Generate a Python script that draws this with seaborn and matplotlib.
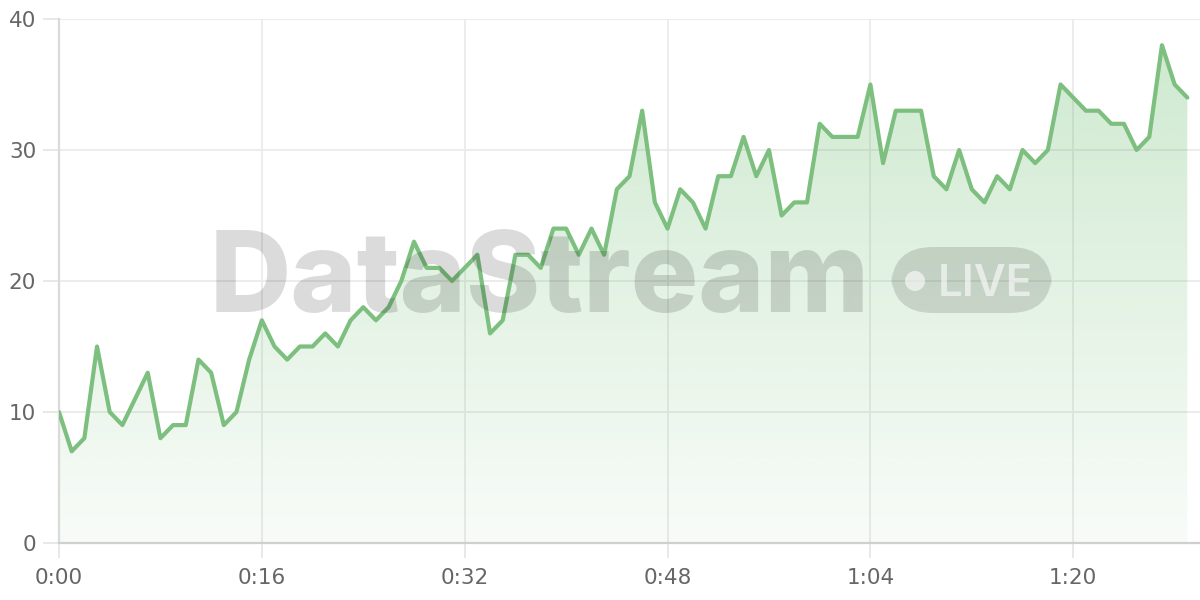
import numpy as np
import pandas as pd
import matplotlib
matplotlib.use("Agg")
import matplotlib.pyplot as plt
import seaborn as sns
from matplotlib.patches import FancyBboxPatch, Circle

# ---- data ----
seconds = list(range(90))
values = [10, 7, 8, 15, 10, 9, 11, 13, 8, 9,
          9, 14, 13, 9, 10, 14, 17, 15, 14, 15,
          15, 16, 15, 17, 18, 17, 18, 20, 23, 21,
          21, 20, 21, 22, 16, 17, 22, 22, 21, 24,
          24, 22, 24, 22, 27, 28, 33, 26, 24, 27,
          26, 24, 28, 28, 31, 28, 30, 25, 26, 26,
          32, 31, 31, 31, 35, 29, 33, 33, 33, 28,
          27, 30, 27, 26, 28, 27, 30, 29, 30, 35,
          34, 33, 33, 32, 32, 30, 31, 38, 35, 34]
x_tick_positions = [0, 16, 32, 48, 64, 80]
x_tick_labels = ["0:00", "0:16", "0:32", "0:48", "1:04", "1:20"]
y_ticks = [0, 10, 20, 30, 40]
watermark_text = "DataStream"
badge_text = "LIVE"

df = pd.DataFrame({"t": seconds, "v": values})

sns.set_theme(style="white")
plt.rcParams['font.family'] = ['DejaVu Sans']

W, H = 1200, 600
fig = plt.figure(figsize=(12, 6), dpi=100)
fig.patch.set_facecolor("white")
ax = fig.add_axes([59 / W, 57 / H, 1141 / W, 524 / H])
ax.set_facecolor("white")

green = np.array([76, 175, 80]) / 255.0
line_color = "#7dbf7e"

# gradient area fill
poly = ax.fill_between(df["t"], df["v"], 0, color="none", lw=0)
n = 256
rgba = np.zeros((n, 1, 4))
rgba[..., :3] = green
rgba[:, 0, 3] = np.linspace(0.04, 0.28, n)
img = ax.imshow(rgba, extent=[0, 90, 0, 40], origin="lower", aspect="auto",
                zorder=1, interpolation="bilinear")
img.set_clip_path(poly.get_paths()[0], ax.transData)

sns.lineplot(data=df, x="t", y="v", ax=ax, color=line_color, lw=3.0,
             zorder=4, legend=False)

ax.set_xlim(0, 90)
ax.set_ylim(0, 40)
ax.set_xticks(x_tick_positions)
ax.set_xticklabels(x_tick_labels)
ax.set_yticks(y_ticks)
ax.set_xlabel("")
ax.set_ylabel("")
ax.grid(True, color="#eaeaea", lw=1.3, zorder=0)
ax.set_axisbelow(True)
for s in ["top", "right"]:
    ax.spines[s].set_visible(False)
ax.spines["left"].set_color("#dadada")
ax.spines["left"].set_linewidth(1.6)
ax.spines["bottom"].set_color("#cfcfcf")
ax.spines["bottom"].set_linewidth(1.6)
ax.tick_params(axis="both", bottom=True, left=True, color="#e6e6e6",
               width=1.3, labelcolor="#666666", labelsize=15.5)
ax.tick_params(axis="x", length=11, pad=7)
ax.tick_params(axis="y", length=11.5, pad=5)

# ---- watermark ----
wm_family = ["Inter", "Roboto", "DejaVu Sans"]
def fx(px):
    return px / W
def fy(py):
    return 1 - py / H

txt = fig.text(fx(540), fy(312), watermark_text, ha="center", va="baseline",
               fontsize=80, fontweight=800, family=wm_family,
               color="black", alpha=0.14, zorder=3)
fig.canvas.draw()
r = fig.canvas.get_renderer()
bb = txt.get_window_extent(r)
txt.set_fontsize(80 * 660 / bb.width)

# LIVE badge
bx0, bx1, by0, by1 = 891, 1052, 247, 313
badge = FancyBboxPatch((fx(bx0), fy(by1)), fx(bx1) - fx(bx0), fy(by0) - fy(by1),
                       boxstyle="round,pad=0,rounding_size=0.035",
                       transform=fig.transFigure, facecolor="black", alpha=0.13,
                       edgecolor="none", zorder=3, mutation_aspect=2.0)
fig.patches.append(badge)
dot = Circle((915, H - 281), 10, transform=None, facecolor="white", alpha=0.6,
             edgecolor="none", zorder=3)
fig.patches.append(dot)
lt = fig.text(fx(985.5), fy(280), badge_text, ha="center", va="center_baseline",
              fontsize=34, fontweight=600, family=wm_family, color="white",
              alpha=0.6, zorder=3)
fig.canvas.draw()
bb2 = lt.get_window_extent(fig.canvas.get_renderer())
lt.set_fontsize(34 * 95 / bb2.width)

fig.savefig("out.png", dpi=100, facecolor="white")
